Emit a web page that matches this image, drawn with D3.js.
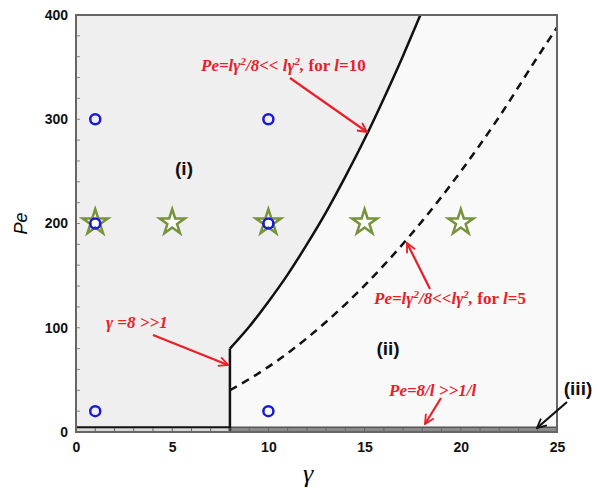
<!DOCTYPE html>
<html>
<head>
<meta charset="utf-8">
<script src="https://cdn.jsdelivr.net/npm/d3@7"></script>
<style>
  body { margin: 0; background: #fff; }
  svg { display: block; }
  .tick text { font-family: Arial, "Liberation Sans", sans-serif; font-weight: bold; font-size: 14px; fill: #111; }
  .red { font-family: "Liberation Serif", "Times New Roman", serif; font-weight: bold; font-style: italic; font-size: 17px; fill: #e8202a; }
  .region { font-family: Arial, "Liberation Sans", sans-serif; font-weight: bold; font-size: 19px; fill: #111; }
</style>
</head>
<body>
<div id="chart"></div>
<script>
// curve: Pe = l*gamma^2/8
var solidGamma = [8, 9, 10, 11, 12, 13, 14, 15, 16, 17, 17.9];
var solidPe    = [80, 101, 125, 151, 180, 211, 245, 281, 320, 361, 400];
var dashGamma  = [8, 10, 12, 14, 16, 18, 20, 22, 24, 25];
var dashPe     = [40, 62.5, 90, 122.5, 160, 202.5, 250, 302.5, 360, 388];

// vertical boundary gamma = 8 and bottom band Pe = 8/l
var wallGamma = 8, wallTop = 80;
var bandPe = 4.5;

var circleGamma = [1, 10, 1, 10, 1, 10];
var circlePe    = [300, 300, 200, 200, 20, 20];
var starGamma   = [1, 5, 10, 15, 20];
var starPe      = [200, 200, 200, 200, 200];

var xTicks = [0, 5, 10, 15, 20, 25];
var yTicks = [0, 100, 200, 300, 400];

var width = 600, height = 501;
var svg = d3.select('#chart').append('svg')
    .attr('width', width).attr('height', height);

var x = d3.scaleLinear().domain([0, 25]).range([76, 557]);
var y = d3.scaleLinear().domain([0, 400]).range([432, 15]);

var defs = svg.append('defs');
['red', 'black'].forEach(function(c){
    defs.append('marker')
        .attr('id', 'arrow-' + c)
        .attr('viewBox', '0 0 12 12')
        .attr('refX', 11).attr('refY', 6)
        .attr('markerWidth', 11).attr('markerHeight', 11)
        .attr('markerUnits', 'userSpaceOnUse')
        .attr('orient', 'auto')
      .append('path')
        .attr('d', 'M1,1 L11,6 L1,11')
        .attr('fill', 'none')
        .attr('stroke', c === 'red' ? '#e8202a' : '#111')
        .attr('stroke-width', 2);
});

var solidPts = solidGamma.map(function(g, i){ return [g, solidPe[i]]; });
var dashPts = dashGamma.map(function(g, i){ return [g, dashPe[i]]; });

var line = d3.line()
    .x(function(d){ return x(d[0]); })
    .y(function(d){ return y(d[1]); })
    .curve(d3.curveMonotoneX);

// background of region (ii)
svg.append('rect')
    .attr('x', x(0)).attr('y', y(400))
    .attr('width', x(25) - x(0)).attr('height', y(0) - y(400))
    .attr('fill', '#f9f9f9');

// region (i): left of gamma=8 and of the solid curve
var regionI = [[0, 0], [wallGamma, 0], [wallGamma, wallTop]].concat(solidPts).concat([[0, 400]]);
svg.append('path')
    .attr('d', d3.line()
        .x(function(d){ return x(d[0]); })
        .y(function(d){ return y(d[1]); })(regionI) + 'Z')
    .attr('fill', '#efefef');

// bottom band (iii)
svg.append('rect')
    .attr('x', x(0)).attr('y', y(bandPe))
    .attr('width', x(wallGamma) - x(0)).attr('height', y(0) - y(bandPe))
    .attr('fill', '#d6d6d6');
svg.append('rect')
    .attr('x', x(wallGamma)).attr('y', y(bandPe))
    .attr('width', x(25) - x(wallGamma)).attr('height', y(0) - y(bandPe))
    .attr('fill', '#8a8a8a');
svg.append('line')
    .attr('x1', x(0)).attr('x2', x(wallGamma))
    .attr('y1', y(bandPe)).attr('y2', y(bandPe))
    .attr('stroke', '#111').attr('stroke-width', 2);
svg.append('line')
    .attr('x1', x(wallGamma)).attr('x2', x(25))
    .attr('y1', y(bandPe)).attr('y2', y(bandPe))
    .attr('stroke', '#555').attr('stroke-width', 1.5);

// curves
svg.append('path')
    .attr('d', line([[wallGamma, 0], [wallGamma, wallTop]]))
    .attr('fill', 'none').attr('stroke', '#111').attr('stroke-width', 2.5);
svg.append('path')
    .attr('d', line(solidPts))
    .attr('fill', 'none').attr('stroke', '#111').attr('stroke-width', 2.5);
svg.append('path')
    .attr('d', line(dashPts))
    .attr('fill', 'none').attr('stroke', '#111').attr('stroke-width', 2.5)
    .attr('stroke-dasharray', '8,6');

// axes
var xAxis = d3.axisBottom(x).tickValues(xTicks).tickSize(0).tickPadding(10);
var yAxis = d3.axisLeft(y).tickValues(yTicks).tickSize(0).tickPadding(8);
svg.append('g').attr('transform', 'translate(0,' + y(0) + ')').call(xAxis)
    .call(function(g){ g.select('.domain').remove(); });
svg.append('g').attr('transform', 'translate(' + x(0) + ',0)').call(yAxis)
    .call(function(g){ g.select('.domain').remove(); });

// minor ticks, inside
svg.append('g').selectAll('line')
    .data(d3.range(1, 25))
    .enter().append('line')
    .attr('x1', function(d){ return x(d); }).attr('x2', function(d){ return x(d); })
    .attr('y1', y(0)).attr('y2', y(0) - 4)
    .attr('stroke', '#666').attr('stroke-width', 1);
svg.append('g').selectAll('line')
    .data(d3.range(20, 400, 20))
    .enter().append('line')
    .attr('x1', x(0)).attr('x2', x(0) + 4)
    .attr('y1', function(d){ return y(d); }).attr('y2', function(d){ return y(d); })
    .attr('stroke', '#888').attr('stroke-width', 1);

// frame
svg.append('rect')
    .attr('x', x(0)).attr('y', y(400))
    .attr('width', x(25) - x(0)).attr('height', y(0) - y(400))
    .attr('fill', 'none').attr('stroke', '#666').attr('stroke-width', 2);

// markers
var star = d3.symbol().type(d3.symbolStar).size(200);
svg.append('g').selectAll('path')
    .data(starGamma.map(function(g, i){ return [g, starPe[i]]; }))
    .enter().append('path')
    .attr('d', star)
    .attr('transform', function(d){ return 'translate(' + x(d[0]) + ',' + (y(d[1]) - 1) + ')'; })
    .attr('fill', '#fff').attr('fill-opacity', 0.9)
    .attr('stroke', '#77933c').attr('stroke-width', 2.5);
svg.append('g').selectAll('circle')
    .data(circleGamma.map(function(g, i){ return [g, circlePe[i]]; }))
    .enter().append('circle')
    .attr('cx', function(d){ return x(d[0]); })
    .attr('cy', function(d){ return y(d[1]); })
    .attr('r', 5)
    .attr('fill', 'none')
    .attr('stroke', '#1a1ad6').attr('stroke-width', 2.5);

// axis titles
svg.append('text')
    .attr('transform', 'translate(27,' + ((y(0) + y(400)) / 2) + ') rotate(-90)')
    .attr('text-anchor', 'middle')
    .style('font-family', 'Arial, "Liberation Sans", sans-serif')
    .style('font-style', 'italic').style('font-size', '18px')
    .text('Pe');
svg.append('text')
    .attr('x', 308).attr('y', 482)
    .attr('text-anchor', 'middle')
    .style('font-family', '"Liberation Serif", "Times New Roman", serif')
    .style('font-style', 'italic').style('font-size', '26px')
    .text('\u03b3');

// region labels
svg.append('text').attr('class', 'region').attr('x', 184).attr('y', 175).attr('text-anchor', 'middle').text('(i)');
svg.append('text').attr('class', 'region').attr('x', 388).attr('y', 355).attr('text-anchor', 'middle').text('(ii)');
svg.append('text').attr('class', 'region').attr('x', 578).attr('y', 395).attr('text-anchor', 'middle').text('(iii)');

// red annotations
function redLabel(px, py, parts) {
    var t = svg.append('text').attr('class', 'red').attr('x', px).attr('y', py);
    parts.forEach(function(p){
        var s = t.append('tspan').text(p[0]);
        if (p[1] === 'sup') s.attr('dy', -6).style('font-size', '11px');
        if (p[1] === 'down') s.attr('dy', 6);
        if (p[1] === 'up') s.style('font-style', 'normal');
    });
}
function arrow(x1, y1, x2, y2, c) {
    svg.append('line')
        .attr('x1', x1).attr('y1', y1).attr('x2', x2).attr('y2', y2)
        .attr('stroke', c === 'red' ? '#e8202a' : '#111')
        .attr('stroke-width', 2.2)
        .attr('marker-end', 'url(#arrow-' + c + ')');
}

redLabel(201, 71, [['Pe=l\u03b3'], ['2', 'sup'], ['/8<< l\u03b3', 'down'], ['2', 'sup'], [', ', 'down'], ['for ', 'up'], ['l'], ['=10', 'up']]);
arrow(290, 78, 367, 132, 'red');

redLabel(374, 304, [['Pe=l\u03b3'], ['2', 'sup'], ['/8<<l\u03b3', 'down'], ['2', 'sup'], [', ', 'down'], ['for ', 'up'], ['l'], ['=5', 'up']]);
arrow(430, 289, 407, 243, 'red');

redLabel(106, 328, [['\u03b3 =8 >>1']]);
arrow(153, 335, 228, 365, 'red');

redLabel(389, 396, [['Pe=8/l >>1/l']]);
arrow(441, 398, 425, 424, 'red');

arrow(567, 402, 537, 428, 'black');
</script>
</body>
</html>
